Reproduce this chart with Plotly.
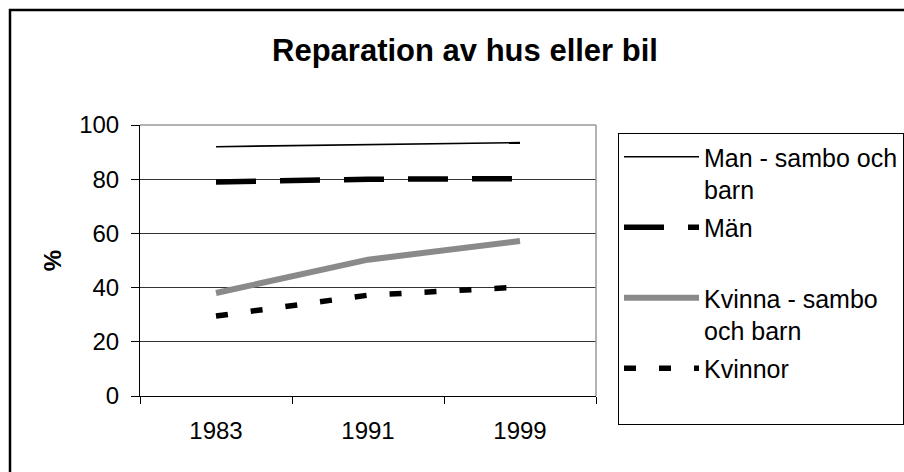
import plotly.graph_objects as go

years = ["1983", "1991", "1999"]
man_sambo = [92, 92.7, 93.5]
man = [79, 80, 80.2]
kvinna_sambo = [38, 50.3, 57.2]
kvinnor = [29.5, 37.2, 40.2]

names = ["Man - sambo och<br>barn", "Män<br> ", "Kvinna - sambo<br>och barn", "Kvinnor<br> "]

FONT = "Liberation Sans, Arial, sans-serif"

fig = go.Figure()
fig.add_trace(go.Scatter(x=years, y=man_sambo, mode="lines", name=names[0], legendgroup="a",
                         line=dict(color="black", width=1.6)))
fig.add_trace(go.Scatter(x=years, y=man, mode="lines", name=names[1], legendgroup="b",
                         line=dict(color="black", width=5.5, dash="40px,24px")))
fig.add_trace(go.Scatter(x=years, y=kvinna_sambo, mode="lines", name=names[2], legendgroup="c",
                         line=dict(color="#8a8a8a", width=6)))
fig.add_trace(go.Scatter(x=years, y=kvinnor, mode="lines", name=names[3], legendgroup="d",
                         line=dict(color="black", width=5.5, dash="12px,23px")))

L, R, T, B = 140, 308, 125, 76
W, H = 904, 472
pw, ph = W - L - R, H - T - B

def px_x(p):
    return (p - L) / pw

def px_y(p):
    return (H - B - p) / ph

fig.update_layout(
    width=W, height=H,
    margin=dict(l=L, r=R, t=T, b=B, autoexpand=False),
    paper_bgcolor="white", plot_bgcolor="white",
    font=dict(family=FONT, size=24, color="black"),
    title=dict(text="<b>Reparation av hus eller bil</b>", x=465 / W, xref="container", xanchor="center",
               y=1 - 50 / H, yref="container", yanchor="middle",
               font=dict(family=FONT, size=31, color="black")),
    showlegend=True,
    legend=dict(x=px_x(618), y=px_y(133), xanchor="left", yanchor="top",
                bordercolor="black", borderwidth=1, bgcolor="white",
                font=dict(family=FONT, size=25, color="black"),
                valign="top", tracegroupgap=2.5, itemwidth=75,
                traceorder="grouped", maxheight=420),
    xaxis=dict(type="category", categoryorder="array", categoryarray=years,
               range=[-0.5, 2.5], tickson="boundaries", ticks="outside", ticklen=7,
               tickcolor="black", showline=True, linecolor="black", linewidth=1, showgrid=False,
               tickfont=dict(family=FONT, size=24), ticklabelstandoff=13),
    yaxis=dict(range=[0, 100], tickvals=[0, 20, 40, 60, 80, 100], ticks="outside", ticklen=8,
               tickcolor="black", showline=True, linecolor="black", linewidth=1,
               showgrid=True, gridcolor="#333333", gridwidth=1, zeroline=False,
               tickfont=dict(family=FONT, size=24), ticklabelstandoff=7,
               title=dict(text="<b>%</b>", font=dict(family=FONT, size=24), standoff=10)),
    shapes=[
        dict(type="line", xref="paper", yref="paper", x0=0, x1=1, y0=1, y1=1,
             line=dict(color="#999999", width=1.5)),
        dict(type="line", xref="paper", yref="paper", x0=1, x1=1, y0=0, y1=1,
             line=dict(color="#999999", width=1.5)),
        dict(type="rect", xref="paper", yref="paper", x0=px_x(10), x1=px_x(940),
             y0=px_y(500), y1=px_y(10), line=dict(color="black", width=2.5), layer="below"),
    ],
)

fig.write_html("out.html", config={"displayModeBar": False},
               post_script="document.body.style.margin='0px';")
